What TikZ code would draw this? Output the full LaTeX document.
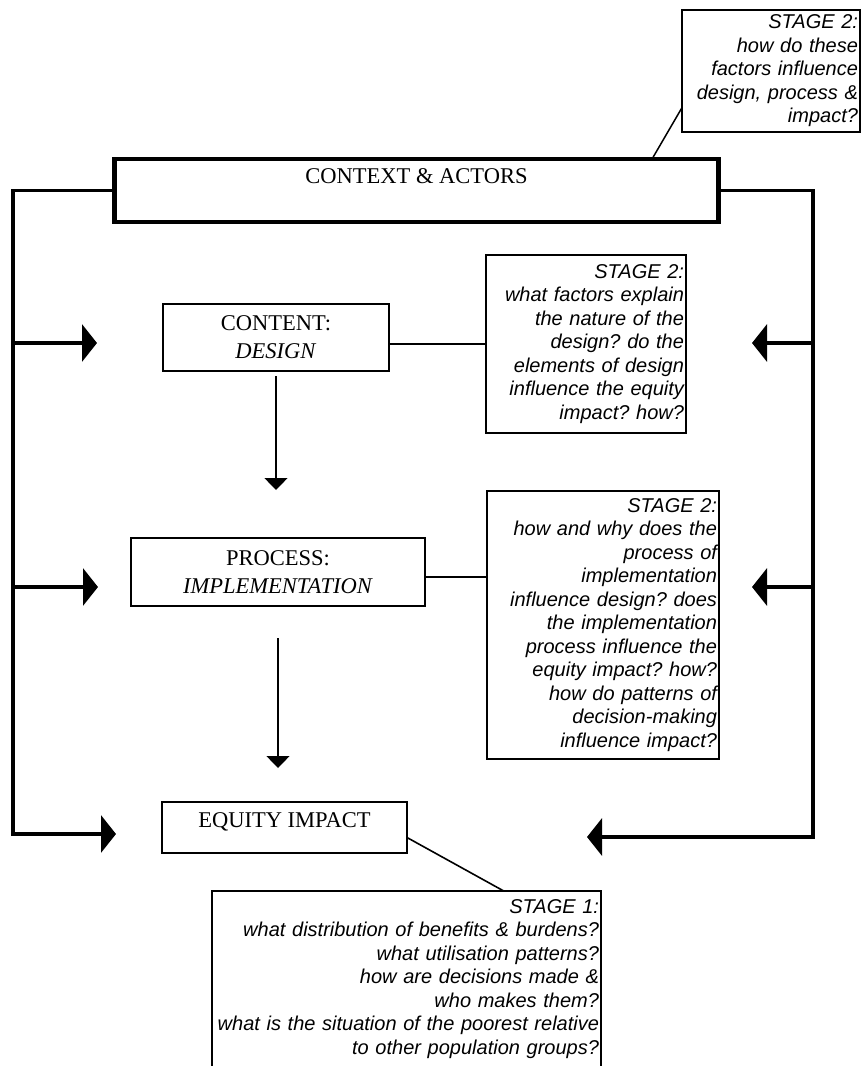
\documentclass[tikz,border=0pt]{standalone}
\usepackage{fontspec}
\setmainfont{Liberation Serif}
\setsansfont{Liberation Sans}
\usetikzlibrary{arrows.meta,positioning,calc}
\frenchspacing

\begin{document}
\begin{tikzpicture}[x=1pt,y=-1pt]

		\def\qsize{\fontsize{20}{23.5}\selectfont}
		\def\bsize{\fontsize{22.5}{28}\selectfont}

		\tikzset{line/.style={draw,line width=1.6pt}}
		\tikzset{box/.style={line,line width=2pt,rectangle,inner sep=0pt,outer sep=0pt,align=center,font=\bsize}}
		\tikzset{bigbox/.style={box,line width=4.5pt}}
		\tikzset{question/.style={draw,line width=1.2pt,inner xsep=2pt,inner ysep=0pt,outer sep=0pt,align=right,font=\sffamily\itshape\qsize}}
		\tikzset{feed/.style={draw,line width=3.5pt,-{Triangle[length=15pt,width=37pt]}}}
		\tikzset{flow/.style={draw,line width=1.3pt,-{Triangle[length=12pt,width=23pt]}}}

		\useasboundingbox (0,0) rectangle (861,1066);

		\node[bigbox, minimum width=604pt, text height=24.5pt, text depth=38.5pt] (ctx) at (416.5,190.5) {CONTEXT \& ACTORS};

		\node[box, minimum width=226pt, minimum height=67pt] (cnt) at (276,337.5) {CONTENT:\\\textit{DESIGN}};
		\node[box, minimum width=294pt, minimum height=68pt, below=167pt of cnt, xshift=2pt] (prc) {PROCESS:\\\textit{IMPLEMENTATION}};
		\node[box, minimum width=245pt, text height=25.5pt, text depth=25.5pt, below=196pt of prc, xshift=6.5pt] (eqt) {EQUITY IMPACT};

		% questions of the two stages
		\node[question, text width=174pt, minimum height=122pt] (st0) at (771,71)
			{STAGE 2:\\how do these\\factors influence\\design, process \&\\impact?};
		\node[question, text width=196pt, minimum height=178pt] (st1) at (586,344)
			{STAGE 2:\\what factors explain\\the nature of the\\design? do the\\elements of design\\influence the equity\\impact? how?};
		\node[question, text width=228pt, minimum height=268pt] (st2) at (603,625)
			{STAGE 2:\\how and why does the\\process of\\implementation\\influence design? does\\the implementation\\process influence the\\equity impact? how?\\how do patterns of\\decision-making\\influence impact?};
		\node[question, text width=385pt, inner ysep=8.5pt, anchor=north] (st3) at (406.5,891)
			{STAGE 1:\\what distribution of benefits \& burdens?\\what utilisation patterns?\\how are decisions made \&\\who makes them?\\what is the situation of the poorest relative\\to other population groups?\par\vspace*{12pt}};

		\coordinate (lcor) at (13,834);
		\coordinate (rcor) at (813,837);
		\coordinate (inL1) at (97,343);
		\coordinate (inL2) at (98,587);
		\coordinate (inL3) at (116,834);
		\coordinate (inR1) at (752,343);
		\coordinate (inR2) at (752,587);
		\coordinate (inR3) at (587,837);
		\coordinate (dn1) at (276,490);
		\coordinate (dn2) at (278,768);
		\coordinate (pj) at ([yshift=-5pt]prc.east);

		\path[feed] (ctx.west) -| (lcor) -- (inL3);
		\path[feed] (lcor |- inL1) -- (inL1);
		\path[feed] (lcor |- inL2) -- (inL2);

		\path[feed] (ctx.east) -| (rcor) -- (inR3);
		\path[feed] (rcor |- inR1) -- (inR1);
		\path[feed] (rcor |- inR2) -- (inR2);

		\path[flow] ([yshift=-5pt]cnt.south) -- (dn1);
		\path[flow] ([yshift=-32pt]prc.south) -- (dn2);

		\path[line, line width=1.5pt] ($(st0.south west)!0.2!(st0.north west)$) -- ($(ctx.north west)!0.89!(ctx.north east)$);
		\path[line] (cnt.east |- st1.west) -- (st1.west);
		\path[line] (pj) -- (pj -| st2.west);
		\path[line] ([yshift=-10pt]eqt.east) -- ($(st3.north west)!0.75!(st3.north east)$);

\end{tikzpicture}
\end{document}
